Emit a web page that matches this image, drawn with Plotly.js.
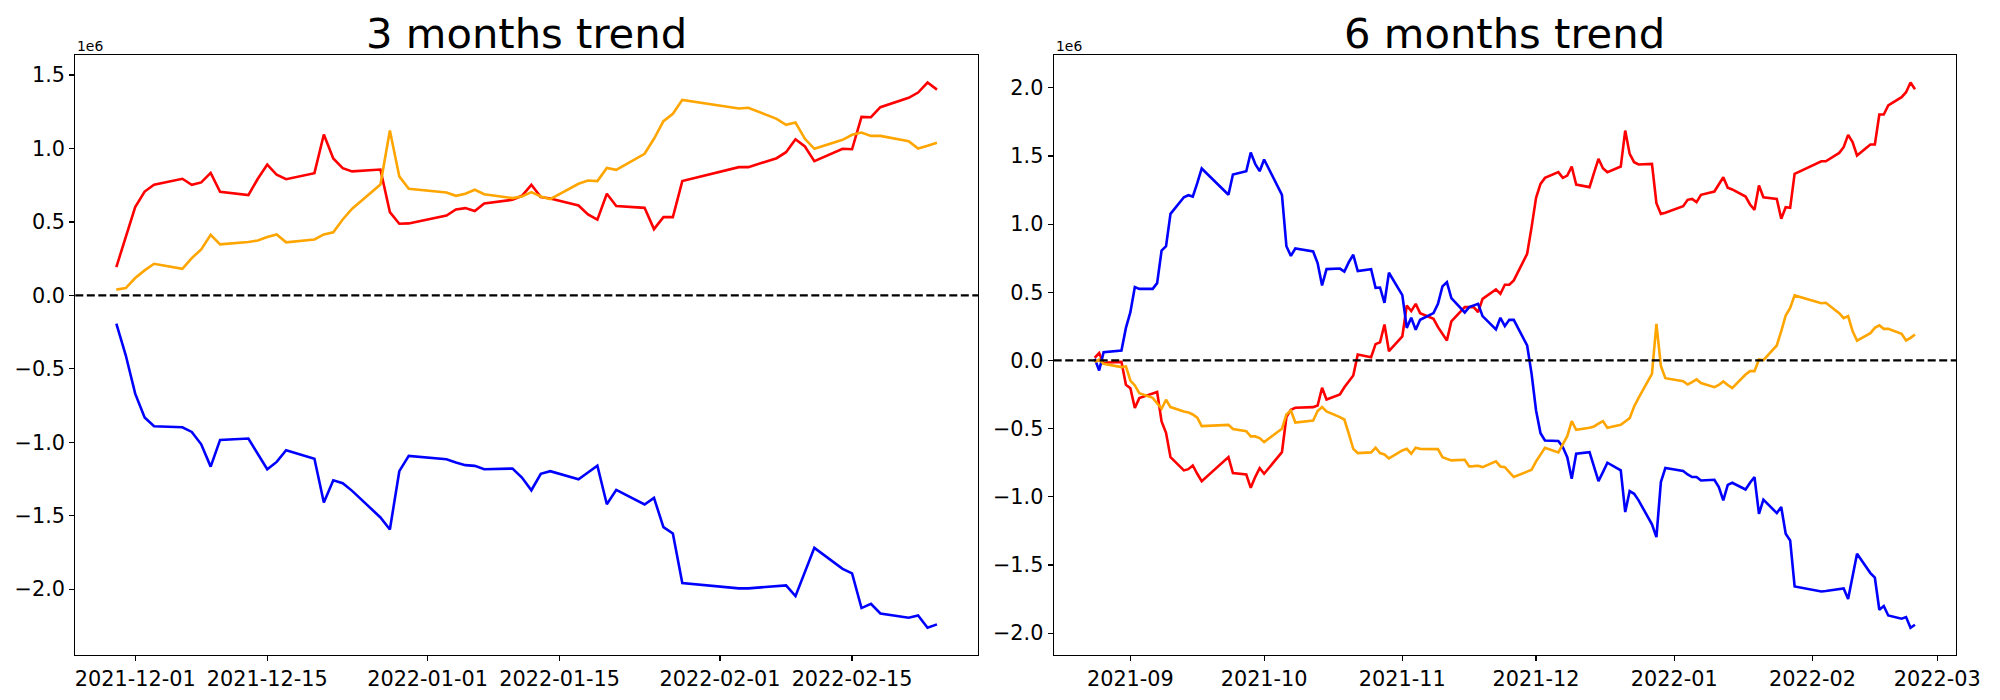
<!DOCTYPE html>
<html>
<head>
<meta charset="utf-8">
<script src="https://cdn.plot.ly/plotly-3.0.1.min.js"></script>
<style>
  html, body { margin: 0; padding: 0; background: #ffffff; }
  #chart { width: 2000px; height: 700px; }
</style>
</head>
<body>
<div id="chart"></div>
<script>
// ---------------- data (values in units of 1e6) ----------------
const dates3 = ["2021-11-29","2021-11-30","2021-12-01","2021-12-02","2021-12-03","2021-12-06","2021-12-07","2021-12-08","2021-12-09","2021-12-10","2021-12-13","2021-12-14","2021-12-15","2021-12-16","2021-12-17","2021-12-20","2021-12-21","2021-12-22","2021-12-23","2021-12-24","2021-12-27","2021-12-28","2021-12-29","2021-12-30","2022-01-03","2022-01-04","2022-01-05","2022-01-06","2022-01-07","2022-01-10","2022-01-11","2022-01-12","2022-01-13","2022-01-14","2022-01-17","2022-01-18","2022-01-19","2022-01-20","2022-01-21","2022-01-24","2022-01-25","2022-01-26","2022-01-27","2022-01-28","2022-02-03","2022-02-04","2022-02-07","2022-02-08","2022-02-09","2022-02-10","2022-02-11","2022-02-14","2022-02-15","2022-02-16","2022-02-17","2022-02-18","2022-02-21","2022-02-22","2022-02-23","2022-02-24"];

const red3 = [0.193,0.397,0.601,0.707,0.753,0.794,0.753,0.769,0.834,0.705,0.683,0.794,0.891,0.821,0.791,0.832,1.095,0.932,0.866,0.844,0.857,0.567,0.488,0.490,0.544,0.585,0.594,0.574,0.626,0.651,0.678,0.753,0.669,0.660,0.612,0.551,0.515,0.692,0.608,0.596,0.451,0.533,0.533,0.778,0.873,0.873,0.934,0.975,1.063,1.014,0.914,0.998,0.995,1.215,1.213,1.281,1.345,1.381,1.449,1.401];

const orange3 = [0.039,0.050,0.118,0.170,0.215,0.181,0.254,0.313,0.413,0.347,0.363,0.374,0.397,0.415,0.361,0.381,0.415,0.429,0.517,0.590,0.755,1.122,0.810,0.726,0.701,0.678,0.692,0.719,0.689,0.662,0.673,0.703,0.673,0.655,0.760,0.782,0.778,0.868,0.855,0.964,1.066,1.186,1.236,1.331,1.272,1.277,1.202,1.161,1.177,1.066,0.998,1.059,1.093,1.109,1.086,1.086,1.050,1.000,1.018,1.039];

const blue3 = [-0.193,-0.408,-0.669,-0.832,-0.891,-0.898,-0.930,-1.014,-1.166,-0.984,-0.975,-1.077,-1.184,-1.134,-1.054,-1.113,-1.410,-1.259,-1.279,-1.331,-1.512,-1.594,-1.197,-1.093,-1.116,-1.138,-1.156,-1.161,-1.184,-1.179,-1.240,-1.327,-1.215,-1.197,-1.252,-1.206,-1.159,-1.422,-1.324,-1.424,-1.379,-1.578,-1.621,-1.959,-1.995,-1.995,-1.980,-1.975,-2.048,-1.889,-1.719,-1.862,-1.893,-2.129,-2.100,-2.166,-2.195,-2.179,-2.263,-2.240];

const datesBefore3 = ["2021-08-24","2021-08-25","2021-08-26","2021-08-27","2021-08-30","2021-08-31",
  "2021-09-01","2021-09-02","2021-09-03","2021-09-06","2021-09-07","2021-09-08","2021-09-09","2021-09-10","2021-09-13","2021-09-14","2021-09-15","2021-09-16","2021-09-17","2021-09-23","2021-09-24","2021-09-27","2021-09-28","2021-09-29","2021-09-30",
  "2021-10-01","2021-10-05","2021-10-06","2021-10-07","2021-10-08","2021-10-12","2021-10-13","2021-10-14","2021-10-15","2021-10-18","2021-10-19","2021-10-20","2021-10-21","2021-10-22","2021-10-25","2021-10-26","2021-10-27","2021-10-28","2021-10-29",
  "2021-11-01","2021-11-02","2021-11-03","2021-11-04","2021-11-05","2021-11-08","2021-11-09","2021-11-10","2021-11-11","2021-11-12","2021-11-15","2021-11-16","2021-11-17","2021-11-18","2021-11-19","2021-11-22","2021-11-23","2021-11-24","2021-11-25","2021-11-26"];
const dates6 = datesBefore3.concat(dates3);

const red6 = [0.020,0.054,-0.020,-0.015,-0.010,-0.178,
  -0.203,-0.349,-0.276,-0.244,-0.232,-0.447,-0.530,-0.709,-0.806,-0.797,-0.770,-0.831,-0.885,-0.709,-0.826,-0.836,-0.934,-0.855,-0.789,
  -0.831,-0.672,-0.415,-0.362,-0.347,-0.342,-0.330,-0.200,-0.286,-0.249,-0.196,-0.152,-0.110,0.044,0.024,0.120,0.134,0.264,0.068,
  0.176,0.403,0.362,0.415,0.347,0.305,0.244,0.196,0.147,0.286,0.391,0.391,0.391,0.354,0.452,0.521,0.489,0.555,0.555,0.587,
  0.782,0.978,1.193,1.295,1.339,1.381,1.339,1.356,1.422,1.290,1.271,1.376,1.479,1.410,1.381,1.422,1.686,1.515,1.454,1.437,1.442,1.153,1.075,1.083,
  1.131,1.178,1.185,1.161,1.215,1.239,1.290,1.344,1.266,1.254,1.202,1.144,1.105,1.283,1.197,1.185,1.039,1.124,1.119,1.369,
  1.461,1.461,1.522,1.564,1.654,1.601,1.503,1.584,1.584,1.804,1.804,1.870,1.931,1.967,2.038,1.989];

const orange6 = [-0.012,0.007,-0.024,-0.029,-0.049,-0.044,
  -0.147,-0.183,-0.240,-0.274,-0.318,-0.354,-0.288,-0.342,-0.374,-0.381,-0.396,-0.420,-0.481,-0.472,-0.503,-0.518,-0.557,-0.557,-0.569,
  -0.599,-0.501,-0.396,-0.367,-0.455,-0.440,-0.371,-0.342,-0.374,-0.415,-0.433,-0.538,-0.648,-0.679,-0.674,-0.640,-0.679,-0.689,-0.718,
  -0.660,-0.648,-0.684,-0.640,-0.648,-0.650,-0.650,-0.709,-0.723,-0.733,-0.728,-0.777,-0.775,-0.772,-0.782,-0.740,-0.777,-0.782,-0.819,-0.855,
  -0.815,-0.802,-0.740,-0.687,-0.640,-0.674,-0.615,-0.555,-0.445,-0.508,-0.494,-0.484,-0.464,-0.445,-0.494,-0.472,-0.447,-0.423,-0.337,-0.274,-0.098,0.269,-0.040,-0.130,
  -0.152,-0.176,-0.159,-0.139,-0.166,-0.196,-0.180,-0.154,-0.180,-0.203,-0.103,-0.078,-0.078,0.007,0.002,0.110,0.215,0.330,0.385,0.477,
  0.420,0.423,0.347,0.310,0.325,0.215,0.145,0.200,0.239,0.257,0.232,0.232,0.196,0.147,0.166,0.191];

const blue6 = [0.012,-0.073,0.061,0.064,0.073,0.239,
  0.354,0.538,0.525,0.525,0.567,0.806,0.838,1.075,1.197,1.212,1.202,1.300,1.408,1.215,1.364,1.388,1.525,1.442,1.388,
  1.474,1.215,0.838,0.767,0.821,0.799,0.714,0.550,0.670,0.674,0.652,0.721,0.775,0.655,0.670,0.533,0.535,0.423,0.643,
  0.479,0.239,0.313,0.225,0.298,0.347,0.415,0.543,0.574,0.457,0.352,0.391,0.403,0.415,0.325,0.227,0.313,0.252,0.298,0.298,
  0.110,-0.098,-0.367,-0.533,-0.587,-0.591,-0.635,-0.709,-0.868,-0.684,-0.672,-0.777,-0.885,-0.819,-0.750,-0.806,-1.112,-0.958,-0.978,-1.026,-1.202,-1.295,-0.892,-0.789,
  -0.811,-0.836,-0.855,-0.855,-0.880,-0.875,-0.929,-1.026,-0.912,-0.897,-0.946,-0.897,-0.855,-1.124,-1.021,-1.119,-1.075,-1.271,-1.320,-1.657,
  -1.694,-1.691,-1.674,-1.672,-1.750,-1.586,-1.417,-1.559,-1.593,-1.828,-1.801,-1.870,-1.894,-1.882,-1.960,-1.938];

const ticks3Vals = ["2021-12-01","2021-12-15","2022-01-01","2022-01-15","2022-02-01","2022-02-15"];
const ticks3Text = ["2021-12-01","2021-12-15","2022-01-01","2022-01-15","2022-02-01","2022-02-15"];
const ticks6Vals = ["2021-09-01","2021-10-01","2021-11-01","2021-12-01","2022-01-01","2022-02-01","2022-03-01"];
const ticks6Text = ["2021-09","2021-10","2021-11","2021-12","2022-01","2022-02","2022-03"];
const yTicks3 = [-2.0,-1.5,-1.0,-0.5,0.0,0.5,1.0,1.5];
const yTicks6 = [-2.0,-1.5,-1.0,-0.5,0.0,0.5,1.0,1.5,2.0];
const titles = ["3 months trend", "6 months trend"];
const scaleLabel = "1e6";

// ---------------- helpers ----------------
function padRange(values, frac) {
  const mn = Math.min.apply(null, values), mx = Math.max.apply(null, values);
  const p = (mx - mn) * frac;
  return [mn - p, mx + p];
}
function dateRange(dates, frac) {
  const ms = dates.map(d => Date.parse(d));
  return padRange(ms, frac);
}

const FONT = "DejaVu Sans";
const LW = 2.6;

function lineTrace(x, y, color, xa, ya) {
  return { x: x, y: y, type: "scatter", mode: "lines", xaxis: xa, yaxis: ya,
           line: { color: color, width: LW }, hoverinfo: "skip" };
}

const traces = [
  lineTrace(dates3, red3, "red", "x", "y"),
  lineTrace(dates3, blue3, "blue", "x", "y"),
  lineTrace(dates3, orange3, "orange", "x", "y"),
  lineTrace(dates6, red6, "red", "x2", "y2"),
  lineTrace(dates6, blue6, "blue", "x2", "y2"),
  lineTrace(dates6, orange6, "orange", "x2", "y2")
];

const axisCommon = {
  ticks: "outside", ticklen: 4.9, tickwidth: 1.2, tickcolor: "#000",
  showline: true, linecolor: "#000", linewidth: 1.2, mirror: true,
  showgrid: false, zeroline: false,
  tickfont: { family: FONT, size: 20.8, color: "#000" }
};

const W = 2000, H = 700;
const yDom = [(H - 655) / H, (H - 55.3) / H];

const layout = {
  width: W, height: H,
  margin: { l: 0, r: 0, t: 0, b: 0 },
  paper_bgcolor: "#fff", plot_bgcolor: "#fff",
  showlegend: false,
  font: { family: FONT, color: "#000" },
  xaxis: Object.assign({}, axisCommon, {
    domain: [75.3 / W, 978 / W], type: "date", anchor: "y",
    range: dateRange(dates3, 0.05), tickvals: ticks3Vals, ticktext: ticks3Text
  }),
  yaxis: Object.assign({}, axisCommon, {
    domain: yDom, anchor: "x",
    range: padRange(red3.concat(orange3, blue3), 0.05),
    tickvals: yTicks3, tickformat: ".1f"
  }),
  xaxis2: Object.assign({}, axisCommon, {
    domain: [1053.7 / W, 1956 / W], type: "date", anchor: "y2",
    range: dateRange(dates6, 0.05), tickvals: ticks6Vals, ticktext: ticks6Text
  }),
  yaxis2: Object.assign({}, axisCommon, {
    domain: yDom, anchor: "x2",
    range: padRange(red6.concat(orange6, blue6), 0.05),
    tickvals: yTicks6, tickformat: ".1f"
  }),
  shapes: [
    { type: "line", xref: "x domain", yref: "y", x0: 0, x1: 1, y0: 0, y1: 0,
      line: { color: "#000", width: 2.3, dash: "8px,3.5px" }, layer: "above" },
    { type: "line", xref: "x2 domain", yref: "y2", x0: 0, x1: 1, y0: 0, y1: 0,
      line: { color: "#000", width: 2.3, dash: "8px,3.5px" }, layer: "above" }
  ],
  annotations: [
    { text: titles[0], xref: "x domain", yref: "paper", x: 0.5, y: (H - 33) / H,
      xanchor: "center", yanchor: "middle", showarrow: false,
      font: { family: FONT, size: 41.7, color: "#000" } },
    { text: titles[1], xref: "x2 domain", yref: "paper", x: 0.5, y: (H - 33) / H,
      xanchor: "center", yanchor: "middle", showarrow: false,
      font: { family: FONT, size: 41.7, color: "#000" } },
    { text: scaleLabel, xref: "x domain", yref: "paper", x: 0, y: (H - 46) / H,
      xanchor: "left", yanchor: "middle", showarrow: false,
      font: { family: FONT, size: 13.9, color: "#000" } },
    { text: scaleLabel, xref: "x2 domain", yref: "paper", x: 0, y: (H - 46) / H,
      xanchor: "left", yanchor: "middle", showarrow: false,
      font: { family: FONT, size: 13.9, color: "#000" } }
  ]
};

Plotly.newPlot("chart", traces, layout, { staticPlot: true, displayModeBar: false });
</script>
</body>
</html>
